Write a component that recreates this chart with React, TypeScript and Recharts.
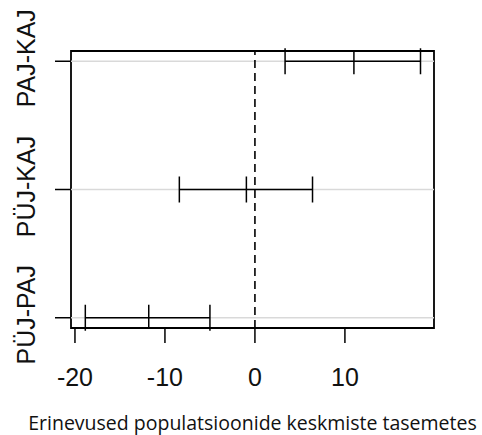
import {
  ScatterChart,
  Scatter,
  XAxis,
  YAxis,
  ErrorBar,
  ReferenceLine,
  ReferenceArea,
} from "recharts";

// Tukey HSD: difference of means with 95% family-wise interval
const comparisons = ["PÜJ-PAJ", "PÜJ-KAJ", "PAJ-KAJ"];
const positions = [1, 2, 3];
const diffs = [-11.8, -0.95, 11.0];
const lowers = [-18.85, -8.4, 3.35];
const uppers = [-5.0, 6.4, 18.4];
const xTicks = [-20, -10, 0, 10];
const xDomain = [-20.44, 19.9];
const yDomain = [0.92, 3.08];

const data = comparisons.map((name, i) => ({
  name,
  pos: positions[i],
  diff: diffs[i],
  err: [diffs[i] - lowers[i], uppers[i] - diffs[i]],
}));

const ink = "#000";

const CenterTick = (props: any) => {
  const { cx, cy } = props;
  return <line x1={cx} x2={cx} y1={cy - 13} y2={cy + 13} stroke={ink} strokeWidth={1.5} />;
};

const YTick = (props: any) => {
  const { x, y, payload } = props;
  const bx = x - 18;
  const by = y - 3;
  return (
    <text
      x={bx}
      y={by}
      transform={`rotate(-90, ${bx}, ${by})`}
      textAnchor="middle"
      fontSize={25}
      fontFamily="Liberation Sans, Arial, sans-serif"
      fill="#111"
    >
      {comparisons[positions.indexOf(payload.value)]}
    </text>
  );
};

export default function App() {
  return (
    <div style={{ position: "absolute", left: 0, top: 0, background: "#fff" }}>
      <ScatterChart
        width={482}
        height={435}
        margin={{ top: 51, right: 48, left: 0, bottom: 0 }}
      >
        <XAxis
          type="number"
          dataKey="diff"
          domain={xDomain}
          ticks={xTicks}
          allowDataOverflow
          axisLine={false}
          tickLine={{ stroke: ink, strokeWidth: 1.5 }}
          tickSize={15}
          tickMargin={25}
          height={107}
          tick={{ fill: "#111", fontSize: 25, fontFamily: "Liberation Sans, Arial, sans-serif" }}
          label={{
            value: "Erinevused populatsioonide keskmiste tasemetes",
            position: "insideBottom",
            offset: 5,
            style: { fill: "#111", fontSize: 19.5, fontFamily: "Open Sans, sans-serif" },
          }}
        />
        <YAxis
          type="number"
          dataKey="pos"
          domain={yDomain}
          ticks={positions}
          allowDataOverflow
          width={71}
          axisLine={false}
          tickLine={{ stroke: ink, strokeWidth: 1.5 }}
          tickSize={16}
          tick={<YTick />}
        />
        {positions.map((p) => (
          <ReferenceLine key={p} y={p} stroke="#d9d9d9" strokeWidth={1.5} />
        ))}
        <ReferenceLine x={0} stroke={ink} strokeWidth={1.6} strokeDasharray="8 5" />
        <Scatter data={data} shape={<CenterTick />} isAnimationActive={false}>
          <ErrorBar dataKey="err" direction="x" width={13} stroke={ink} strokeWidth={1.5} />
        </Scatter>
        <ReferenceArea
          x1={xDomain[0]}
          x2={xDomain[1]}
          y1={yDomain[0]}
          y2={yDomain[1]}
          fill="none"
          fillOpacity={0}
          stroke={ink}
          strokeWidth={1.8}
          ifOverflow="visible"
        />
      </ScatterChart>
    </div>
  );
}
